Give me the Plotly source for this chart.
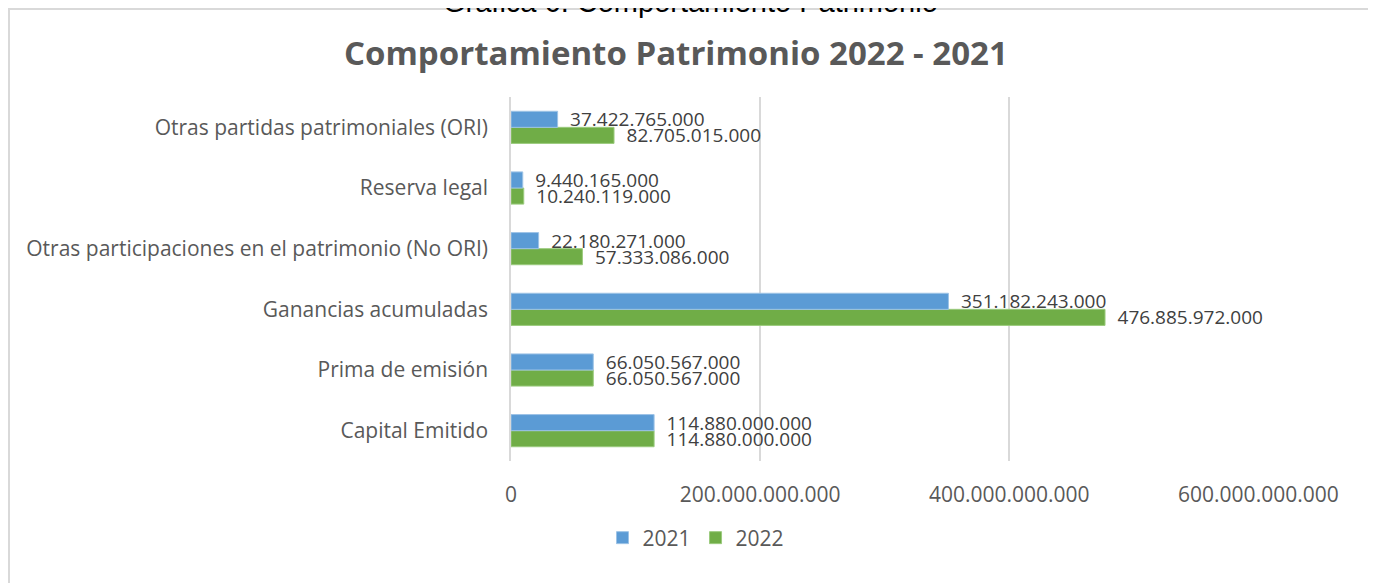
import plotly.graph_objects as go

categorias = [
    "Capital Emitido",
    "Prima de emisión",
    "Ganancias acumuladas",
    "Otras participaciones en el patrimonio (No ORI)",
    "Reserva legal",
    "Otras partidas patrimoniales (ORI)",
]
valores_2021 = [114880000000, 66050567000, 351182243000, 22180271000, 9440165000, 37422765000]
valores_2022 = [114880000000, 66050567000, 476885972000, 57333086000, 10240119000, 82705015000]
ticks_x = [0, 200000000000, 400000000000, 600000000000]

OFF = 8  # margen por defecto del body en la página
W, H = 1376 - OFF, 583 - OFF
L, R, T, B = 511 - OFF, 1259 - OFF, 97 - OFF, 461 - OFF  # área de trazado
FONT = "Open Sans, sans-serif"
GRIS = "#595959"


def px(x):
    return (x - OFF - L) / (R - L)


def py(y):
    return (B - (y - OFF)) / (B - T)


fig = go.Figure()
fig.add_trace(go.Bar(
    y=categorias, x=valores_2022, name="2022", orientation="h",
    marker=dict(color="#70AD47", line=dict(color="#9BCB7E", width=1)),
    text=valores_2022, texttemplate="\u2002%{x:,.0f}", textposition="outside",
    constraintext="none", cliponaxis=False,
    textfont=dict(family=FONT, size=19, color="#404040"),
))
fig.add_trace(go.Bar(
    y=categorias, x=valores_2021, name="2021", orientation="h",
    marker=dict(color="#5B9BD5", line=dict(color="#9DC3E6", width=1)),
    text=valores_2021, texttemplate="\u2002%{x:,.0f}", textposition="outside",
    constraintext="none", cliponaxis=False,
    textfont=dict(family=FONT, size=19, color="#404040"),
))

# marco del gráfico
fig.add_shape(type="rect", xref="paper", yref="paper",
              x0=px(9), x1=px(1370), y0=py(610), y1=py(9),
              line=dict(color="#D9D9D9", width=2), layer="below")

fig.add_annotation(text="Gráfica 6. Comportamiento Patrimonio", xref="paper", yref="paper",
                   x=px(690), xanchor="center", y=py(20), yanchor="bottom", showarrow=False,
                   font=dict(family="Liberation Sans, Arial", size=29, color="#000000"))
fig.add_annotation(text="<b>Comportamiento Patrimonio 2022 - 2021</b>", xref="paper", yref="paper",
                   x=px(676), xanchor="center", y=py(52), yanchor="middle", showarrow=False,
                   font=dict(family=FONT, size=33, color=GRIS))

fig.update_layout(
    width=W, height=H,
    margin=dict(l=L, r=W - R, t=T, b=H - B),
    barmode="group", bargap=0.47, bargroupgap=0,
    separators=",.",
    paper_bgcolor="white", plot_bgcolor="white",
    font=dict(family=FONT, color=GRIS),
    showlegend=True,
    legend=dict(orientation="h", x=px(696), xanchor="center", y=py(538), yanchor="middle",
                traceorder="reversed", font=dict(family=FONT, size=21, color=GRIS),
                itemwidth=30),
)
fig.update_xaxes(range=[0, 600500000000], tickvals=ticks_x, tickformat=",.0f",
                 showgrid=True, gridcolor="#D9D9D9", gridwidth=1.5,
                 zeroline=False, showline=False,
                 tickfont=dict(family=FONT, size=21, color=GRIS), ticklabelstandoff=19)
fig.update_yaxes(showgrid=False, showline=True, linecolor="#D9D9D9", linewidth=1.5,
                 tickfont=dict(family=FONT, size=21, color=GRIS), ticklabelstandoff=17)

fig.write_html("out.html")
